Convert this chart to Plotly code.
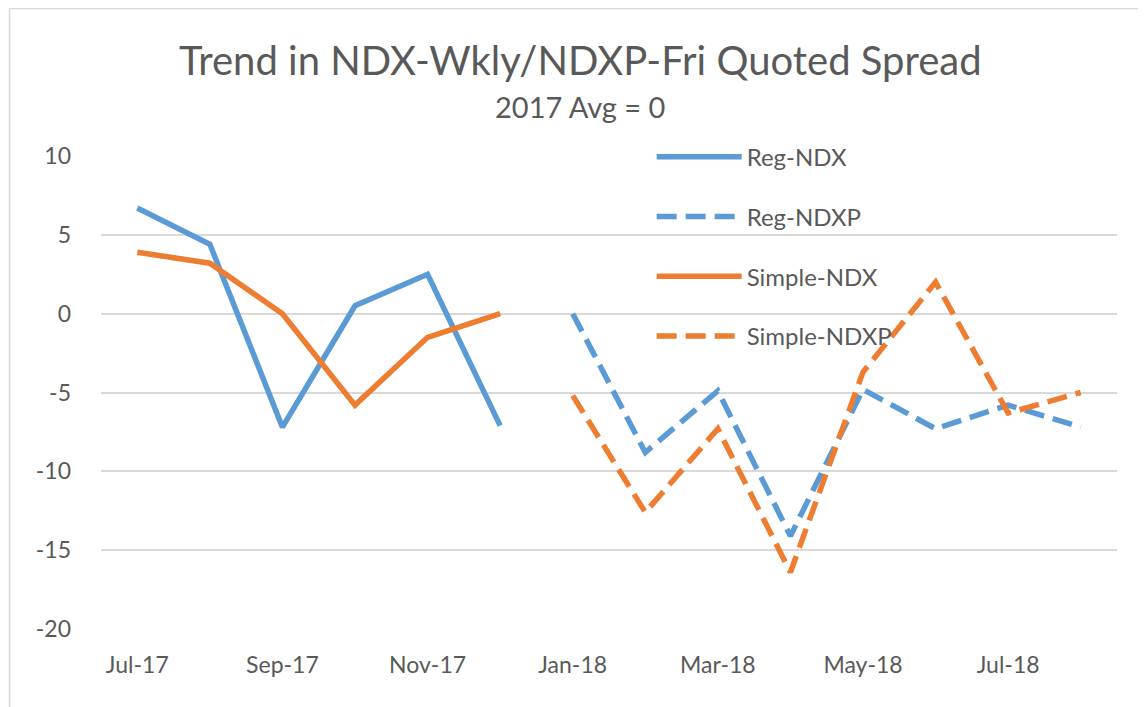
from plotly import graph_objects as go

months = ['Jul-17', 'Aug-17', 'Sep-17', 'Oct-17', 'Nov-17', 'Dec-17', 'Jan-18',
          'Feb-18', 'Mar-18', 'Apr-18', 'May-18', 'Jun-18', 'Jul-18', 'Aug-18']
tickMonths = months[::2]
yTicks = [10, 5, 0, -5, -10, -15, -20]
yTickText = ['10', '5', '0', '-5', '-10', '-15', '-20']

regNDX = [6.7, 4.4, -7.2, 0.5, 2.5, -7.1, None, None, None, None, None, None, None, None]
simpleNDX = [3.9, 3.2, 0.0, -5.8, -1.5, 0.0, None, None, None, None, None, None, None, None]
regNDXP = [None, None, None, None, None, None, 0.0, -8.8, -4.9, -14.1, -4.8, -7.3, -5.8, -7.2]
simpleNDXP = [None, None, None, None, None, None, -5.2, -12.6, -7.3, -16.4, -3.7, 2.0, -6.3, -5.0]

blue = '#5B9BD5'
orange = '#ED7D31'
textGrey = '#595959'
fontName = 'Lato'

fig = go.Figure()
series = [('Reg-NDX', regNDX, blue, 'solid'),
          ('Reg-NDXP', regNDXP, blue, '20px,9px'),
          ('Simple-NDX', simpleNDX, orange, 'solid'),
          ('Simple-NDXP', simpleNDXP, orange, '20px,9px')]
for name, vals, col, dash in series:
    fig.add_trace(go.Scatter(x=months, y=vals, mode='lines', name=name, legendgroup=name,
                             line=dict(color=col, width=5.5, dash=dash)))

# page body has an 8px margin; plot area sits at x 101..1117, y 156..629 on screen
def px(xAbs):
    return (xAbs - 101) / 1016

def py(yAbs):
    return (629 - yAbs) / 473

fig.update_layout(
    width=1138, height=699,
    margin=dict(l=93, r=29, t=148, b=78, autoexpand=False),
    paper_bgcolor='white', plot_bgcolor='white',
    font=dict(family=fontName, color=textGrey, size=23),
    showlegend=True,
    legend=dict(x=0.542, y=1.045, xanchor='left', yanchor='top', bgcolor='rgba(0,0,0,0)',
                font=dict(size=24, color=textGrey), itemwidth=85, tracegroupgap=25.5),
    xaxis=dict(type='category', range=[-0.5, 13.5], tickvals=tickMonths, ticktext=tickMonths,
               showgrid=False, showline=False, ticks='', ticklabelstandoff=20,
               tickfont=dict(size=23, color=textGrey)),
    yaxis=dict(range=[-20, 10], tickvals=yTicks, ticktext=yTickText, showgrid=True,
               gridcolor='#D9D9D9', gridwidth=1.5, zeroline=False, showline=False, ticks='',
               ticklabelstandoff=29, tickfont=dict(size=23, color=textGrey)),
    annotations=[
        dict(text='Trend in NDX-Wkly/NDXP-Fri Quoted Spread', xref='paper', yref='paper',
             x=px(580), y=py(60), xanchor='center', yanchor='middle',
             showarrow=False, font=dict(size=40, color=textGrey, family=fontName)),
        dict(text='2017 Avg = 0', xref='paper', yref='paper',
             x=px(580), y=py(107), xanchor='center', yanchor='middle',
             showarrow=False, font=dict(size=29, color=textGrey, family=fontName)),
    ],
    shapes=[
        dict(type='line', xref='paper', yref='paper', x0=px(9.5), x1=px(9.5),
             y0=py(720), y1=py(8.5), line=dict(color='#D9D9D9', width=1.5)),
        dict(type='line', xref='paper', yref='paper', x0=px(9.5), x1=px(1160),
             y0=py(8.5), y1=py(8.5), line=dict(color='#D9D9D9', width=1.5)),
    ],
)

fig.write_html("out.html")
